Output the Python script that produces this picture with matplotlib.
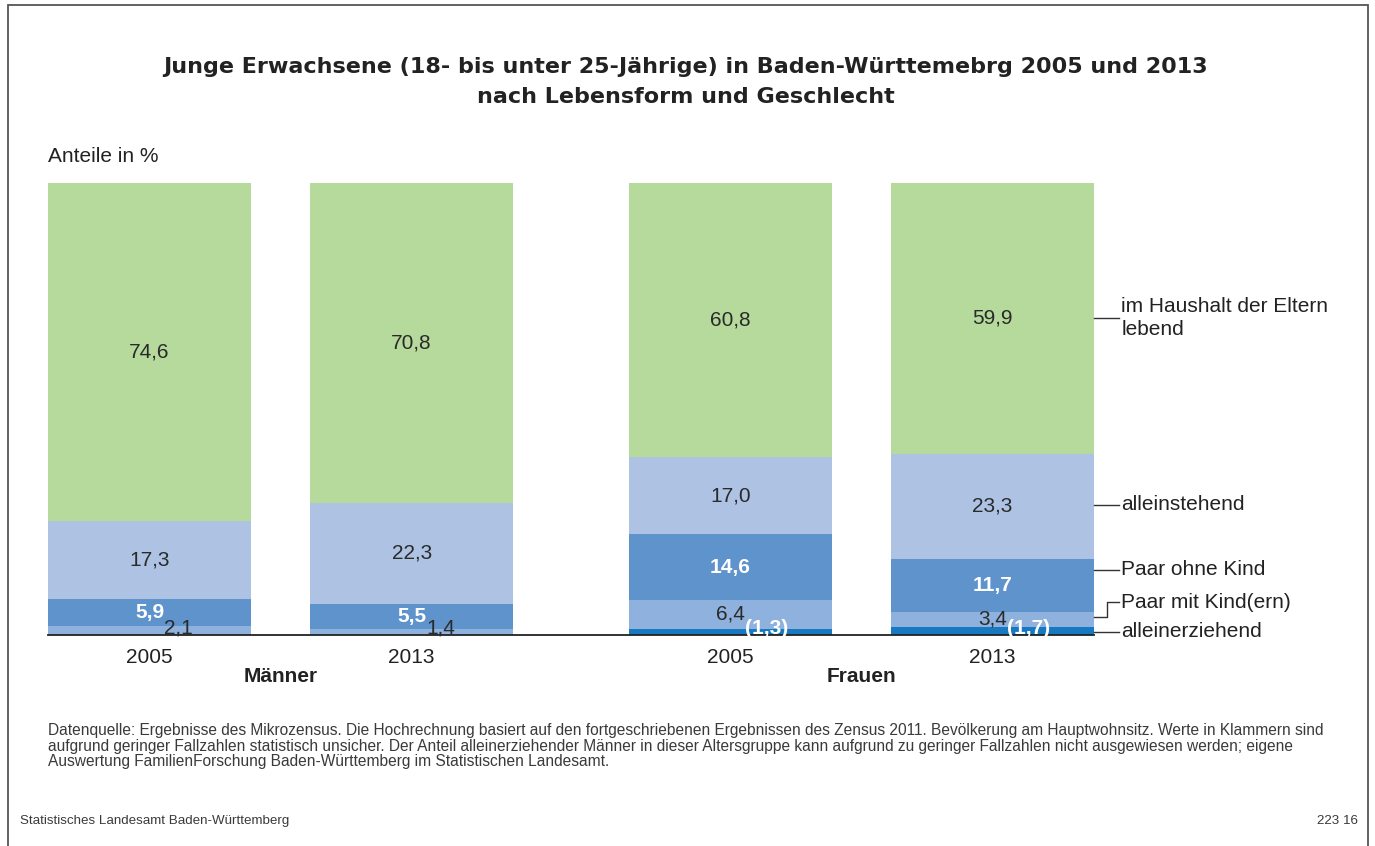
"""Junge Erwachsene in Baden-Württemberg 2005 und 2013 nach Lebensform und Geschlecht."""

import matplotlib
matplotlib.use("Agg")
import matplotlib.pyplot as plt
from matplotlib.patches import Rectangle

plt.rcParams["font.family"] = ["Liberation Sans", "DejaVu Sans"]

# --- data (Anteile in %) -------------------------------------------------
years = ["2005", "2013", "2005", "2013"]
groups = ["Männer", "Frauen"]
alleinerziehend = [0.0, 0.0, 1.3, 1.7]
paar_mit_kind = [2.1, 1.4, 6.4, 3.4]
paar_ohne_kind = [5.9, 5.5, 14.6, 11.7]
alleinstehend = [17.3, 22.3, 17.0, 23.3]
eltern = [74.6, 70.8, 60.8, 59.9]

layers = [alleinerziehend, paar_mit_kind, paar_ohne_kind, alleinstehend, eltern]
layer_names = ["alleinerziehend", "Paar mit Kind(ern)", "Paar ohne Kind",
               "alleinstehend", "im Haushalt der Eltern\nlebend"]
colors = ["#1679c1", "#8fb1dd", "#5e93cc", "#aec3e4", "#b6da9b"]

TITLE = ("Junge Erwachsene (18- bis unter 25-Jährige) in Baden-Württemebrg 2005 und 2013\n"
         "nach Lebensform und Geschlecht")
NOTE = ("Datenquelle: Ergebnisse des Mikrozensus. Die Hochrechnung basiert auf den fortgeschriebenen "
        "Ergebnissen des Zensus 2011. Bevölkerung am Hauptwohnsitz. Werte in Klammern sind\n"
        "aufgrund geringer Fallzahlen statistisch unsicher. Der Anteil alleinerziehender Männer in "
        "dieser Altersgruppe kann aufgrund zu geringer Fallzahlen nicht ausgewiesen werden; eigene\n"
        "Auswertung FamilienForschung Baden-Württemberg im Statistischen Landesamt.")

W, H = 1375, 846
fig = plt.figure(figsize=(W / 100, H / 100), dpi=100)

# frame around the whole graphic (open at the bottom edge)
fig.add_artist(Rectangle((8 / W, -0.01), (1368 - 8) / W, 1.01 - 5 / H,
                         transform=fig.transFigure, fill=False,
                         edgecolor="#555555", linewidth=1.3))

ax = fig.add_axes([48 / W, 1 - 635 / H, (1094 - 48) / W, (635 - 183) / H])

BAR_W = 0.775
GROUP_GAP = 1.216
pos = [0, 1, GROUP_GAP + 1, GROUP_GAP + 2]

bottom = [0.0] * 4
for vals, col in zip(layers, colors):
    ax.bar(pos, vals, BAR_W, bottom=bottom, color=col, linewidth=0)
    bottom = [b + v for b, v in zip(bottom, vals)]

ax.set_xlim(pos[0] - BAR_W / 2, pos[-1] + BAR_W / 2)
ax.set_ylim(0, 100)
for side in ("top", "right", "left"):
    ax.spines[side].set_visible(False)
ax.spines["bottom"].set_color("#222222")
ax.spines["bottom"].set_linewidth(1.3)
ax.set_yticks([])
ax.set_xticks(pos)
ax.set_xticklabels(years, fontsize=15, color="#222222")
ax.tick_params(axis="x", length=0, pad=9)

# value labels
dark = "#2a2a2a"
for i, p in enumerate(pos):
    base = 0.0
    for k, vals in enumerate(layers):
        v = vals[i]
        mid = base + v / 2
        base += v
        if v == 0:
            continue
        txt = f"{v:.1f}".replace(".", ",")
        if k == 0:
            ax.text(p + 0.055, 1.4, f"({txt})", ha="left", va="center",
                    fontsize=15, fontweight="bold", color="white")
        elif k == 1:
            if alleinerziehend[i] == 0:
                ax.text(p + 0.055, 1.5, txt, ha="left", va="center",
                        fontsize=15, color=dark)
            else:
                ax.text(p, mid + 0.2, txt, ha="center", va="center",
                        fontsize=15, color=dark)
        elif k == 2:
            ax.text(p, mid, txt, ha="center", va="center", fontsize=15,
                    fontweight="bold", color="white")
        else:
            ax.text(p, mid, txt, ha="center", va="center", fontsize=15, color=dark)

# group labels
for g, (a, b) in zip(groups, [(pos[0], pos[1]), (pos[2], pos[3])]):
    ax.annotate(g, xy=((a + b) / 2, 0), xycoords=("data", "axes fraction"),
                xytext=(0, -30), textcoords="offset points", ha="center",
                va="center", fontsize=15, fontweight="bold", color="#222222")

# leader lines and legend labels on the right of the last bar
x0 = pos[-1] + BAR_W / 2
x1 = x0 + 0.094
leader_y = [0.7, 4.0, 14.4, 28.8, 70.1]
label_y = [0.7, 7.3, 14.4, 28.8, 70.1]
for name, ly, ty in zip(layer_names, leader_y, label_y):
    if ly == ty:
        ax.plot([x0, x1], [ly, ly], color="#333333", lw=1.0, clip_on=False)
    else:
        xm = x0 + 0.05
        ax.plot([x0, xm, xm, x1], [ly, ly, ty, ty], color="#333333", lw=1.0,
                clip_on=False)
    ax.text(x1 + 0.01, ty, name, ha="left", va="center", fontsize=15,
            color="#222222", linespacing=1.25, clip_on=False)

fig.text(686 / W, 1 - 82 / H, TITLE, ha="center", va="center", fontsize=16,
         fontweight="bold", color="#222222", linespacing=1.6,
         family=["DejaVu Sans"])
fig.text(48 / W, 1 - 157 / H, "Anteile in %", ha="left", va="center",
         fontsize=15, color="#222222")
fig.text(48 / W, 1 - 746 / H, NOTE, ha="left", va="center", fontsize=11.2,
         color="#3a3a3a", linespacing=1.05)
fig.text(20 / W, 1 - 821 / H, "Statistisches Landesamt Baden-Württemberg",
         ha="left", va="center", fontsize=9.6, color="#3a3a3a")
fig.text(1358 / W, 1 - 821 / H, "223 16", ha="right", va="center",
         fontsize=9.6, color="#3a3a3a")

fig.savefig("out.png", dpi=100)
